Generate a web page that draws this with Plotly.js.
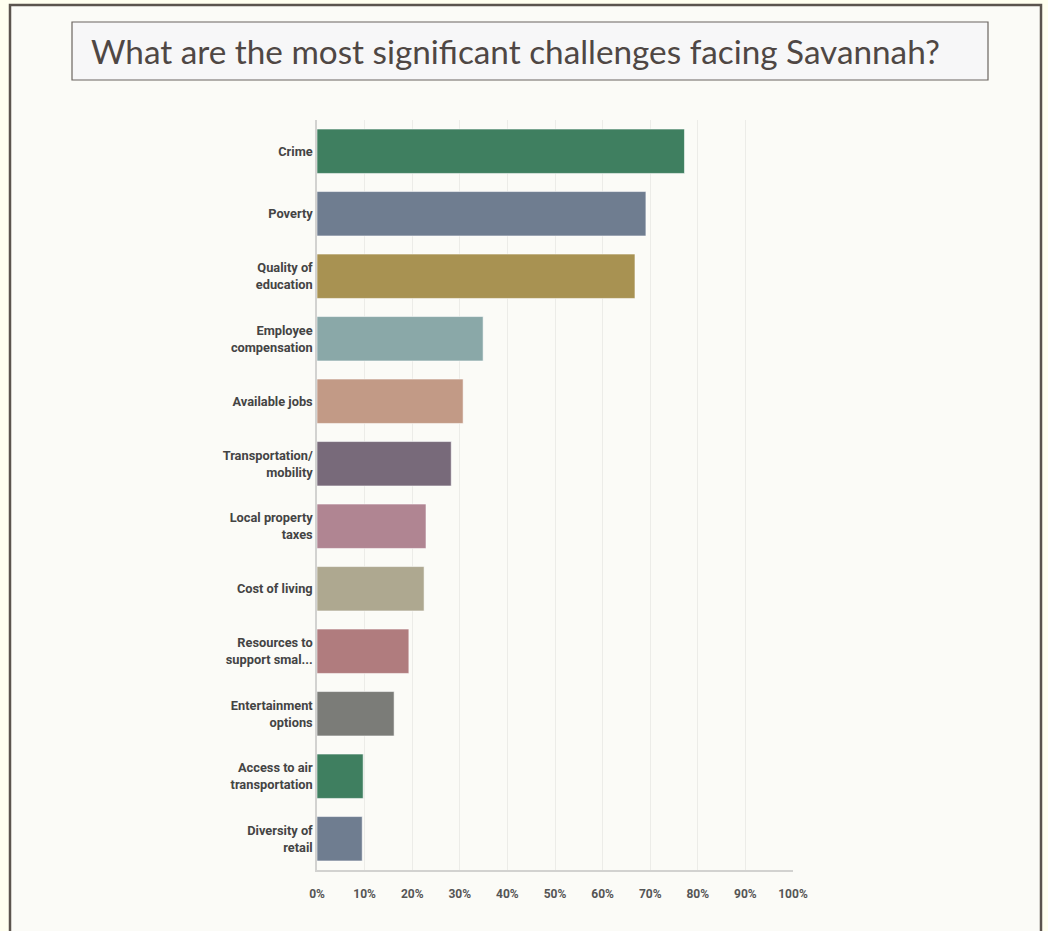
<!DOCTYPE html>
<html>
<head>
<meta charset="utf-8">
<script src="https://cdn.plot.ly/plotly-3.0.1.min.js"></script>
<style>
  html, body { margin: 0; padding: 0; background: #fffff0; }
  #chart { width: 1048px; height: 931px; }
</style>
</head>
<body>
<div id="chart"></div>
<script>
// Data
const categories = [
  "Crime",
  "Poverty",
  "Quality of<br>education",
  "Employee<br>compensation",
  "Available jobs",
  "Transportation/<br>mobility",
  "Local property<br>taxes",
  "Cost of living",
  "Resources to<br>support smal...",
  "Entertainment<br>options",
  "Access to air<br>transportation",
  "Diversity of<br>retail"
];
const values = [77.2, 69.1, 66.8, 34.9, 30.7, 28.2, 22.9, 22.5, 19.3, 16.2, 9.7, 9.5];
const tickValues = [0, 10, 20, 30, 40, 50, 60, 70, 80, 90, 100];
const tickLabels = ["0%", "10%", "20%", "30%", "40%", "50%", "60%", "70%", "80%", "90%", "100%"];
const chartTitle = "What are the most significant challenges facing Savannah?";

// Styles
const barColors = ["#3f7f60", "#6f7d90", "#a89252", "#8aa8a8", "#c29a86", "#786a7a",
                   "#b08592", "#aea890", "#b07c7e", "#7b7c78", "#3f7f60", "#6f7d90"];

const W = 1048, H = 931;
const L = 317, R = 793, T = 120, B = 870;
const pw = R - L, ph = B - T;
const px = x => (x - L) / pw;
const py = y => (B - y) / ph;

const trace = {
  type: "bar",
  orientation: "h",
  y: categories,
  x: values,
  marker: { color: barColors, line: { color: "rgba(255,255,255,0.55)", width: 1 } },
  hoverinfo: "x+y"
};

const layout = {
  width: W, height: H,
  margin: { l: L, r: W - R, t: T, b: H - B, pad: 0 },
  paper_bgcolor: "#fffff0",
  plot_bgcolor: "rgba(0,0,0,0)",
  showlegend: false,
  bargap: 0.29,
  title: {
    text: chartTitle,
    font: { family: "Lato, 'Open Sans', sans-serif", size: 33.3, color: "#4f4744" },
    xref: "container", x: 91 / W, xanchor: "left",
    yref: "container", y: 1 - 52 / H, yanchor: "middle",
    pad: { t: 0, b: 0, l: 0, r: 0 }
  },
  xaxis: {
    range: [0, 100],
    tickvals: tickValues,
    ticktext: tickLabels,
    showgrid: true, gridcolor: "#ecece8", gridwidth: 1,
    showline: true, linecolor: "#d2d2d0", linewidth: 1.5,
    zeroline: false,
    ticks: "",
    ticklabelstandoff: 12,
    tickfont: { family: "'Liberation Sans Narrow', Roboto, sans-serif", size: 12, color: "#555", weight: "bold" },
    fixedrange: true
  },
  yaxis: {
    type: "category",
    autorange: "reversed",
    showgrid: false,
    showline: true, linecolor: "#d2d2d0", linewidth: 1.5,
    zeroline: false,
    ticks: "",
    ticklabelstandoff: 0,
    tickfont: { family: "'Liberation Sans Narrow', Roboto, sans-serif", size: 12.8, color: "#444", weight: "bold" },
    fixedrange: true
  },
  shapes: [
    { type: "rect", layer: "below", xref: "paper", yref: "paper",
      x0: px(10), x1: px(1041), y0: py(960), y1: py(5),
      fillcolor: "#fbfbf7", line: { color: "#5b544e", width: 2.5 } },
    { type: "rect", layer: "below", xref: "paper", yref: "paper",
      x0: px(72), x1: px(988), y0: py(80), y1: py(22),
      fillcolor: "#f7f7f8", line: { color: "#6b6560", width: 1.2 } }
  ]
};

Plotly.newPlot("chart", [trace], layout, { displayModeBar: false });
</script>
</body>
</html>
